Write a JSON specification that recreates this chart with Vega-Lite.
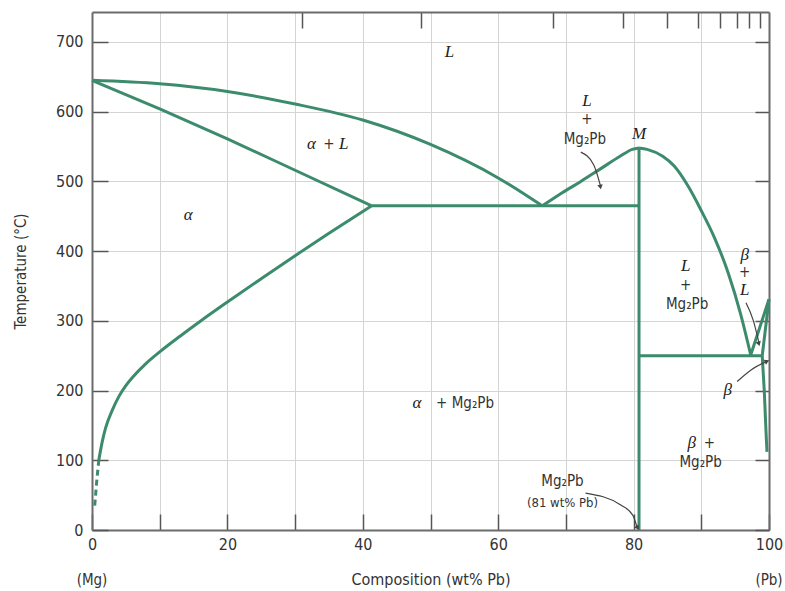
{
  "$schema": "https://vega.github.io/schema/vega-lite/v6.json",
  "width": 677,
  "height": 518,
  "autosize": "none",
  "padding": {"left": 92, "top": 12, "right": 16, "bottom": 61},
  "background": "white",
  "config": {
    "view": {"stroke": null},
    "axis": {
      "domainColor": "#6b6b6b",
      "domainWidth": 2,
      "tickColor": "#555555",
      "tickWidth": 1.5,
      "tickSize": -16,
      "gridColor": "#d4d4d4",
      "gridWidth": 1,
      "labelFont": "Liberation Sans Narrow, DejaVu Sans Condensed, sans-serif",
      "labelFontSize": 16,
      "labelColor": "#333333",
      "titleFont": "Liberation Sans Narrow, DejaVu Sans Condensed, sans-serif",
      "titleFontSize": 15,
      "titleFontWeight": "normal",
      "titleColor": "#333333"
    }
  },
  "datasets": {
    "curves": [
      {"s": "liqL", "i": 0, "x": 0, "y": 645},
      {"s": "liqL", "i": 1, "x": 10, "y": 640},
      {"s": "liqL", "i": 2, "x": 20, "y": 629},
      {"s": "liqL", "i": 3, "x": 30, "y": 611},
      {"s": "liqL", "i": 4, "x": 40, "y": 588},
      {"s": "liqL", "i": 5, "x": 50, "y": 553},
      {"s": "liqL", "i": 6, "x": 60, "y": 505},
      {"s": "liqL", "i": 7, "x": 66.5, "y": 465},
      {"s": "solA", "i": 0, "x": 0, "y": 645},
      {"s": "solA", "i": 1, "x": 10, "y": 604},
      {"s": "solA", "i": 2, "x": 20, "y": 561},
      {"s": "solA", "i": 3, "x": 30, "y": 516},
      {"s": "solA", "i": 4, "x": 41.3, "y": 465},
      {"s": "solvA", "i": 0, "x": 1, "y": 100},
      {"s": "solvA", "i": 1, "x": 1.5, "y": 126},
      {"s": "solvA", "i": 2, "x": 2, "y": 146},
      {"s": "solvA", "i": 3, "x": 3, "y": 172},
      {"s": "solvA", "i": 4, "x": 4, "y": 192},
      {"s": "solvA", "i": 5, "x": 5, "y": 207},
      {"s": "solvA", "i": 6, "x": 6, "y": 219},
      {"s": "solvA", "i": 7, "x": 8, "y": 239},
      {"s": "solvA", "i": 8, "x": 10, "y": 255.5},
      {"s": "solvA", "i": 9, "x": 13, "y": 278},
      {"s": "solvA", "i": 10, "x": 16, "y": 299.5},
      {"s": "solvA", "i": 11, "x": 20, "y": 327},
      {"s": "solvA", "i": 12, "x": 25, "y": 360.5},
      {"s": "solvA", "i": 13, "x": 30, "y": 393.5},
      {"s": "solvA", "i": 14, "x": 35, "y": 425.5},
      {"s": "solvA", "i": 15, "x": 41.3, "y": 465},
      {"s": "liqR1", "i": 0, "x": 66.5, "y": 465},
      {"s": "liqR1", "i": 1, "x": 69, "y": 481},
      {"s": "liqR1", "i": 2, "x": 72.2, "y": 500},
      {"s": "liqR1", "i": 3, "x": 75.1, "y": 518},
      {"s": "liqR1", "i": 4, "x": 78, "y": 536},
      {"s": "liqR1", "i": 5, "x": 79.8, "y": 546},
      {"s": "liqR1", "i": 6, "x": 80.8, "y": 548},
      {"s": "liqR2", "i": 0, "x": 80.8, "y": 548},
      {"s": "liqR2", "i": 1, "x": 82, "y": 546},
      {"s": "liqR2", "i": 2, "x": 84.3, "y": 536},
      {"s": "liqR2", "i": 3, "x": 86, "y": 522},
      {"s": "liqR2", "i": 4, "x": 88, "y": 494},
      {"s": "liqR2", "i": 5, "x": 90, "y": 458},
      {"s": "liqR2", "i": 6, "x": 92, "y": 418},
      {"s": "liqR2", "i": 7, "x": 94, "y": 368},
      {"s": "liqR2", "i": 8, "x": 95.8, "y": 310},
      {"s": "liqR2", "i": 9, "x": 97.3, "y": 251}
    ],
    "straight": [
      {"s": "eut1", "i": 0, "x": 41.3, "y": 465},
      {"s": "eut1", "i": 1, "x": 80.8, "y": 465},
      {"s": "eut2", "i": 0, "x": 80.8, "y": 250},
      {"s": "eut2", "i": 1, "x": 99.0, "y": 250},
      {"s": "comp", "i": 0, "x": 80.8, "y": 0},
      {"s": "comp", "i": 1, "x": 80.8, "y": 548},
      {"s": "bLiq", "i": 0, "x": 97.3, "y": 251},
      {"s": "bLiq", "i": 1, "x": 100, "y": 331},
      {"s": "bSol", "i": 0, "x": 99.0, "y": 250},
      {"s": "bSol", "i": 1, "x": 100, "y": 331},
      {"s": "bSolv", "i": 0, "x": 99.0, "y": 250},
      {"s": "bSolv", "i": 1, "x": 99.3, "y": 200},
      {"s": "bSolv", "i": 2, "x": 99.55, "y": 143},
      {"s": "bSolv", "i": 3, "x": 99.7, "y": 112}
    ],
    "dashed": [
      {"i": 0, "x": 0.4, "y": 35},
      {"i": 1, "x": 0.7, "y": 70},
      {"i": 2, "x": 1, "y": 100}
    ],
    "arrows": [
      {"a": 1, "i": 0, "x": 72.2, "y": 542},
      {"a": 1, "i": 1, "x": 74.1, "y": 524},
      {"a": 1, "i": 2, "x": 75.1, "y": 494},
      {"a": 2, "i": 0, "x": 96.6, "y": 326},
      {"a": 2, "i": 1, "x": 97.7, "y": 300},
      {"a": 2, "i": 2, "x": 98.5, "y": 269},
      {"a": 3, "i": 0, "x": 95.3, "y": 213},
      {"a": 3, "i": 1, "x": 97.4, "y": 230},
      {"a": 3, "i": 2, "x": 99.5, "y": 241},
      {"a": 4, "i": 0, "x": 72.9, "y": 53},
      {"a": 4, "i": 1, "x": 78.1, "y": 36},
      {"a": 4, "i": 2, "x": 79.9, "y": 21},
      {"a": 4, "i": 3, "x": 80.5, "y": 4}
    ],
    "heads": [
      {"a": 1, "x": 75.1, "y": 492},
      {"a": 2, "x": 98.5, "y": 267},
      {"a": 3, "x": 99.7, "y": 242},
      {"a": 4, "x": 80.6, "y": 3}
    ],
    "itl": [
      {"x": 52.8, "y": 685, "t": "L"},
      {"x": 14.2, "y": 452, "t": "α"},
      {"x": 32.4, "y": 553, "t": "α"},
      {"x": 37.2, "y": 553, "t": "L"},
      {"x": 73.1, "y": 616, "t": "L"},
      {"x": 80.8, "y": 568, "t": "M"},
      {"x": 87.7, "y": 379, "t": "L"},
      {"x": 96.4, "y": 395, "t": "β"},
      {"x": 96.4, "y": 344, "t": "L"},
      {"x": 93.9, "y": 201, "t": "β"},
      {"x": 48.0, "y": 182, "t": "α"},
      {"x": 88.6, "y": 125, "t": "β"}
    ],
    "sans": [
      {"x": 73.1, "y": 589, "t": "+"},
      {"x": 72.8, "y": 561, "t": "Mg₂Pb"},
      {"x": 87.7, "y": 352, "t": "+"},
      {"x": 87.9, "y": 324, "t": "Mg₂Pb"},
      {"x": 96.4, "y": 370, "t": "+"},
      {"x": 35.0, "y": 553, "t": "+"},
      {"x": 55.1, "y": 182, "t": "+ Mg₂Pb"},
      {"x": 91.2, "y": 125, "t": "+"},
      {"x": 89.9, "y": 98, "t": "Mg₂Pb"},
      {"x": 69.5, "y": 70, "t": "Mg₂Pb"}
    ],
    "small": [
      {"x": 69.5, "y": 39, "t": "(81 wt% Pb)"}
    ],
    "ends": [
      {"x": 0, "y": 0, "t": "(Mg)"},
      {"x": 100, "y": 0, "t": "(Pb)"}
    ]
  },
  "resolve": {"axis": {"x": "independent", "y": "independent"}},
  "layer": [
    {
      "data": {"name": "curves"},
      "mark": {"type": "line", "interpolate": "monotone", "color": "#3d8b6d", "strokeWidth": 3},
      "encoding": {
        "x": {"field": "x", "type": "quantitative",
          "scale": {"domain": [0, 100], "nice": false, "zero": false},
          "axis": {"orient": "bottom", "values": [0, 10, 20, 30, 40, 50, 60, 70, 80, 90, 100],
            "labelExpr": "datum.value % 20 == 0 ? datum.label : ''",
            "grid": true, "labelFlush": false, "labelPadding": 22,
            "title": "Composition (wt% Pb)", "titleFontSize": 16, "titlePadding": 19}},
        "y": {"field": "y", "type": "quantitative",
          "scale": {"domain": [0, 743], "nice": false, "zero": false},
          "axis": {"orient": "left", "values": [0, 100, 200, 300, 400, 500, 600, 700],
            "grid": true, "labelPadding": 25, "labelFlush": false,
            "title": "Temperature (°C)", "titlePadding": 27}},
        "detail": {"field": "s"},
        "order": {"field": "i"}
      }
    },
    {
      "data": {"name": "straight"},
      "mark": {"type": "line", "color": "#3d8b6d", "strokeWidth": 3},
      "encoding": {
        "x": {"field": "x", "type": "quantitative",
          "scale": {"domain": [0, 100], "nice": false, "zero": false},
          "axis": {"orient": "top", "values": [31.0, 48.6, 68.1, 78.5, 85.0, 89.5, 92.7, 95.2, 97.1, 98.7],
            "labels": false, "grid": false, "title": null, "tickSize": -16}},
        "y": {"field": "y", "type": "quantitative",
          "scale": {"domain": [0, 743], "nice": false, "zero": false},
          "axis": {"orient": "right", "values": [0, 100, 200, 300, 400, 500, 600, 700],
            "labels": false, "grid": false, "title": null, "tickSize": -14}},
        "detail": {"field": "s"},
        "order": {"field": "i"}
      }
    },
    {
      "data": {"name": "dashed"},
      "mark": {"type": "line", "color": "#3d8b6d", "strokeWidth": 3, "strokeDash": [6, 4]},
      "encoding": {
        "x": {"field": "x", "type": "quantitative", "axis": null},
        "y": {"field": "y", "type": "quantitative", "axis": null},
        "order": {"field": "i"}
      }
    },
    {
      "data": {"name": "arrows"},
      "mark": {"type": "line", "interpolate": "monotone", "color": "#444444", "strokeWidth": 1.2},
      "encoding": {
        "x": {"field": "x", "type": "quantitative", "axis": null},
        "y": {"field": "y", "type": "quantitative", "axis": null},
        "detail": {"field": "a"},
        "order": {"field": "i"}
      }
    },
    {
      "data": {"name": "heads"},
      "transform": [{"filter": "datum.a == 1"}],
      "mark": {"type": "point", "shape": "triangle-down", "filled": true, "color": "#444444", "size": 30, "angle": -10, "opacity": 1},
      "encoding": {
        "x": {"field": "x", "type": "quantitative", "axis": null},
        "y": {"field": "y", "type": "quantitative", "axis": null}
      }
    },
    {
      "data": {"name": "heads"},
      "transform": [{"filter": "datum.a == 2"}],
      "mark": {"type": "point", "shape": "triangle-down", "filled": true, "color": "#444444", "size": 30, "angle": -17, "opacity": 1},
      "encoding": {
        "x": {"field": "x", "type": "quantitative", "axis": null},
        "y": {"field": "y", "type": "quantitative", "axis": null}
      }
    },
    {
      "data": {"name": "heads"},
      "transform": [{"filter": "datum.a == 3"}],
      "mark": {"type": "point", "shape": "triangle-right", "filled": true, "color": "#444444", "size": 30, "angle": -25, "opacity": 1},
      "encoding": {
        "x": {"field": "x", "type": "quantitative", "axis": null},
        "y": {"field": "y", "type": "quantitative", "axis": null}
      }
    },
    {
      "data": {"name": "heads"},
      "transform": [{"filter": "datum.a == 4"}],
      "mark": {"type": "point", "shape": "triangle-down", "filled": true, "color": "#444444", "size": 30, "angle": -36, "opacity": 1},
      "encoding": {
        "x": {"field": "x", "type": "quantitative", "axis": null},
        "y": {"field": "y", "type": "quantitative", "axis": null}
      }
    },
    {
      "data": {"name": "itl"},
      "mark": {"type": "text", "font": "Liberation Serif", "fontStyle": "italic", "fontSize": 17, "color": "#222222", "baseline": "middle", "align": "center"},
      "encoding": {
        "x": {"field": "x", "type": "quantitative", "axis": null},
        "y": {"field": "y", "type": "quantitative", "axis": null},
        "text": {"field": "t"}
      }
    },
    {
      "data": {"name": "sans"},
      "mark": {"type": "text", "font": "Liberation Sans Narrow, DejaVu Sans Condensed, sans-serif", "fontSize": 15, "color": "#333333", "baseline": "middle", "align": "center"},
      "encoding": {
        "x": {"field": "x", "type": "quantitative", "axis": null},
        "y": {"field": "y", "type": "quantitative", "axis": null},
        "text": {"field": "t"}
      }
    },
    {
      "data": {"name": "small"},
      "mark": {"type": "text", "font": "Liberation Sans Narrow, DejaVu Sans Condensed, sans-serif", "fontSize": 13, "color": "#333333", "baseline": "middle", "align": "center"},
      "encoding": {
        "x": {"field": "x", "type": "quantitative", "axis": null},
        "y": {"field": "y", "type": "quantitative", "axis": null},
        "text": {"field": "t"}
      }
    },
    {
      "data": {"name": "ends"},
      "mark": {"type": "text", "font": "Liberation Sans Narrow, DejaVu Sans Condensed, sans-serif", "fontSize": 15, "color": "#333333", "baseline": "middle", "align": "center", "dy": 50},
      "encoding": {
        "x": {"field": "x", "type": "quantitative", "axis": null},
        "y": {"field": "y", "type": "quantitative", "axis": null},
        "text": {"field": "t"}
      }
    }
  ]
}
